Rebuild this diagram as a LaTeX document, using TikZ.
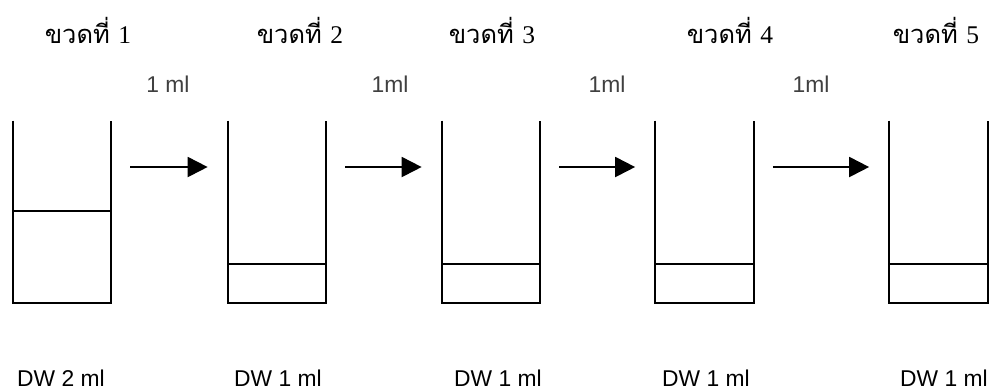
\documentclass[tikz,border=0pt]{standalone}
\usepackage{fontspec}
\setmainfont{Liberation Serif}
\setsansfont{Liberation Sans}
\newfontfamily\thaifont[Script=Thai]{Loma}
\usepackage{tikz}
\usetikzlibrary{arrows.meta,positioning}

\tikzset{
  beaker/.style={minimum width=1.96cm,minimum height=3.64cm,inner sep=0pt},
  wall/.style={line width=1.1pt,black},
  flow/.style={line width=1.1pt,-{Triangle[length=0.4cm,width=0.4cm]},shorten <=0.38cm,shorten >=0.4cm},
  title/.style={font=\thaifont\fontsize{14.5}{18}\selectfont,anchor=base},
  vol/.style={font=\sffamily\fontsize{13}{15}\selectfont,text=black!75,anchor=base},
  dw/.style={font=\sffamily\fontsize{13}{15}\selectfont,anchor=base}
}

\begin{document}
\begin{tikzpicture}[x=0.02cm,y=-0.02cm]
  \useasboundingbox (0,0) rectangle (991,389);
  % Titles
  \node[title] (t1) at (88,43) {ขวดที่ {\rmfamily 1}};
  \node[title] (t2) at (300,43) {ขวดที่ {\rmfamily 2}};
  \node[title] (t3) at (492,43) {ขวดที่ {\rmfamily 3}};
  \node[title] (t4) at (730,43) {ขวดที่ {\rmfamily 4}};
  \node[title] (t5) at (936,43) {ขวดที่ {\rmfamily 5}};
  % Beakers
  \node[beaker] (b1) at (62,212) {};
  \node[beaker] (b2) at (277,212) {};
  \node[beaker] (b3) at (491,212) {};
  \node[beaker] (b4) at (704.5,212) {};
  \node[beaker] (b5) at (938.5,212) {};
  \draw[wall] (b1.north west) |- (b1.south east) -- (b1.north east);
  \draw[wall] (b2.north west) |- (b2.south east) -- (b2.north east);
  \draw[wall] (b3.north west) |- (b3.south east) -- (b3.north east);
  \draw[wall] (b4.north west) |- (b4.south east) -- (b4.north east);
  \draw[wall] (b5.north west) |- (b5.south east) -- (b5.north east);
  % Liquid levels
  \draw[wall] ([yshift=1.84cm]b1.south west) -- ([yshift=1.84cm]b1.south east);
  \draw[wall] ([yshift=0.78cm]b2.south west) -- ([yshift=0.78cm]b2.south east);
  \draw[wall] ([yshift=0.78cm]b3.south west) -- ([yshift=0.78cm]b3.south east);
  \draw[wall] ([yshift=0.78cm]b4.south west) -- ([yshift=0.78cm]b4.south east);
  \draw[wall] ([yshift=0.78cm]b5.south west) -- ([yshift=0.78cm]b5.south east);
  % Transfers
  \draw[flow] ([yshift=0.9cm]b1.east) -- ([yshift=0.9cm]b2.west);
  \draw[flow] ([yshift=0.9cm]b2.east) -- ([yshift=0.9cm]b3.west);
  \draw[flow] ([yshift=0.9cm]b3.east) -- ([yshift=0.9cm]b4.west);
  \draw[flow] ([yshift=0.9cm]b4.east) -- ([yshift=0.9cm]b5.west);
  \node[vol] (v1) at (168,92) {1 ml};
  \node[vol] (v2) at (390,92) {1ml};
  \node[vol] (v3) at (607,92) {1ml};
  \node[vol] (v4) at (811,92) {1ml};
  % Water
  \node[dw] (d1) at (61,386) {DW 2 ml};
  \node[dw] (d2) at (278,386) {DW 1 ml};
  \node[dw] (d3) at (498,386) {DW 1 ml};
  \node[dw] (d4) at (706,386) {DW 1 ml};
  \node[dw] (d5) at (944,386) {DW 1 ml};
\end{tikzpicture}
\end{document}
